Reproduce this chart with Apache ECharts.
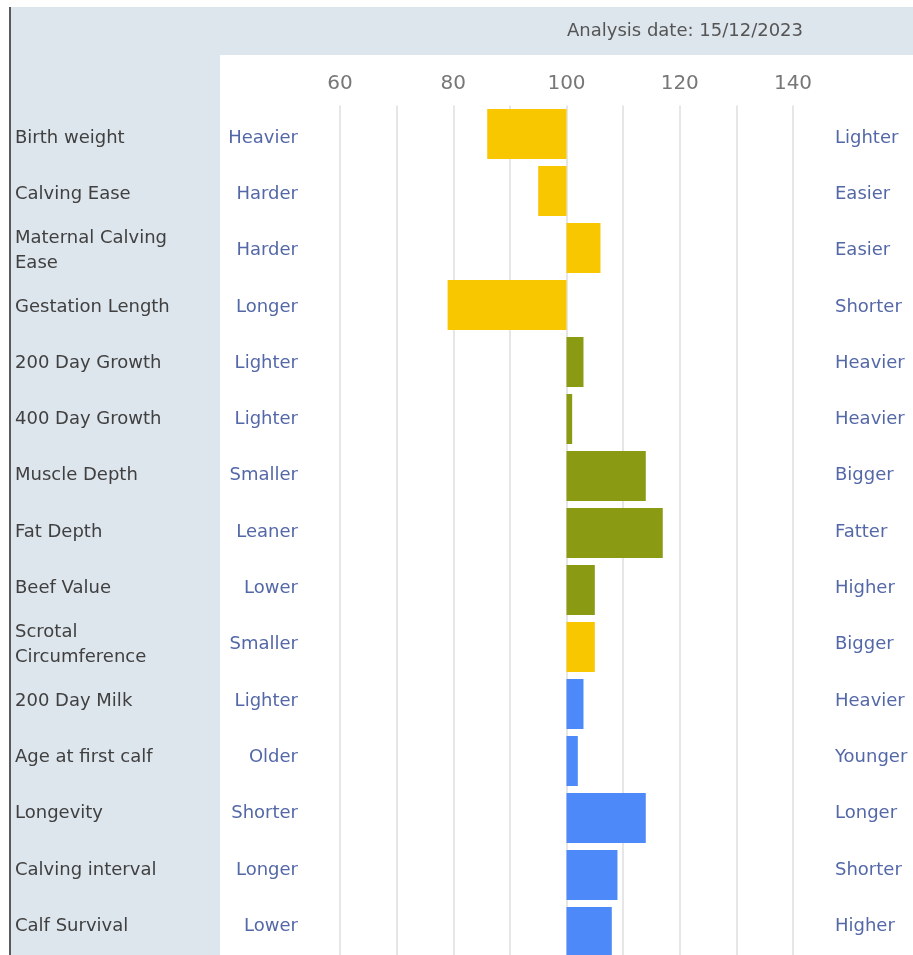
<!DOCTYPE html>
<html>
<head>
<meta charset="utf-8">
<script src="https://cdn.jsdelivr.net/npm/echarts@6/dist/echarts.min.js"></script>
<style>
  html, body { margin: 0; padding: 0; background: #fff; }
  #chart { width: 913px; height: 955px; }
</style>
</head>
<body>
<div id="chart"></div>
<script>
// trait rows, top to bottom
var traits = [
    'Birth weight', 'Calving Ease', 'Maternal Calving Ease', 'Gestation Length',
    '200 Day Growth', '400 Day Growth', 'Muscle Depth', 'Fat Depth', 'Beef Value',
    'Scrotal Circumference', '200 Day Milk', 'Age at first calf', 'Longevity',
    'Calving interval', 'Calf Survival'
];
var lowLabels = [
    'Heavier', 'Harder', 'Harder', 'Longer', 'Lighter', 'Lighter', 'Smaller', 'Leaner',
    'Lower', 'Smaller', 'Lighter', 'Older', 'Shorter', 'Longer', 'Lower'
];
var highLabels = [
    'Lighter', 'Easier', 'Easier', 'Shorter', 'Heavier', 'Heavier', 'Bigger', 'Fatter',
    'Higher', 'Bigger', 'Heavier', 'Younger', 'Longer', 'Shorter', 'Higher'
];
var values = [86, 95, 106, 79, 103, 101, 114, 117, 105, 105, 103, 102, 114, 109, 108];
// 0 = calving/fertility (yellow), 1 = growth/carcase (olive), 2 = maternal (blue)
var groups = [0, 0, 0, 0, 1, 1, 1, 1, 1, 0, 2, 2, 2, 2, 2];
var groupColors = ['#f8c700', '#8a9a12', '#4d89f8'];
var xTicks = [60, 80, 100, 120, 140];
var baseline = 100;
var analysisDate = '15/12/2023';

var FONT = 'DejaVu Sans';

var chart = echarts.init(document.getElementById('chart'));

// invisible part of the stack: from 0 up to the start of the visible bar
var baseData = values.map(function (v) { return Math.min(v, baseline); });
var deltaData = values.map(function (v, i) {
    return { value: Math.abs(v - baseline), itemStyle: { color: groupColors[groups[i]] } };
});

// label axes sit in a second grid (rows slightly tighter than the bars)
function catAxis(position, margin, align, color, textFor) {
    return {
        type: 'category',
        gridIndex: 1,
        data: traits,
        inverse: true,
        position: position,
        axisLine: { show: false },
        axisTick: { show: false },
        splitLine: { show: false },
        axisLabel: {
            margin: margin,
            align: align,
            color: color,
            fontFamily: FONT,
            fontSize: 18,
            lineHeight: 25,
            width: 180,
            overflow: 'break',
            formatter: textFor
        }
    };
}

var option = {
    animation: false,
    backgroundColor: '#ffffff',
    graphic: [
        // grey frame: top band and left column
        { type: 'rect', z: -10, shape: { x: 11, y: 7, width: 902, height: 48 }, style: { fill: '#dde5ed' } },
        { type: 'rect', z: -10, shape: { x: 11, y: 55, width: 209, height: 900 }, style: { fill: '#dde5ed' } },
        { type: 'rect', z: -10, shape: { x: 9, y: 7, width: 2, height: 948 }, style: { fill: '#5a5a5a' } },
        {
            type: 'text', z: 5, x: 685, y: 31,
            style: {
                text: 'Analysis date: ' + analysisDate,
                fill: '#555555', font: '18px "' + FONT + '"',
                textAlign: 'center', textVerticalAlign: 'middle'
            }
        }
    ],
    grid: [
        { left: 340, right: 120, top: 105.5, height: 855, containLabel: false, outerBoundsMode: 'none' },
        { left: 340, right: 120, top: 109.8, height: 844.5, containLabel: false, outerBoundsMode: 'none' }
    ],
    xAxis: [
        {
            type: 'value',
            gridIndex: 0,
            position: 'top',
            min: 60,
            max: 140,
            interval: 10,
            axisLine: { show: false },
            axisTick: { show: false },
            splitLine: { show: true, lineStyle: { color: '#e6e6e6', width: 2 } },
            axisLabel: {
                margin: 12,
                color: '#777777',
                fontFamily: FONT,
                fontSize: 20,
                formatter: function (v) { return xTicks.indexOf(v) >= 0 ? String(v) : ''; }
            }
        },
        { type: 'value', gridIndex: 1, min: 0, max: 1, show: false }
    ],
    yAxis: [
        catAxis('left', 325, 'left', '#404040', function (v) { return v; }),
        catAxis('left', 42, 'right', '#5468a8', function (v, i) { return lowLabels[i]; }),
        catAxis('right', 42, 'left', '#5468a8', function (v, i) { return highLabels[i]; }),
        { type: 'category', gridIndex: 0, data: traits, inverse: true, show: false }
    ],
    series: [
        {
            name: 'base', type: 'bar', stack: 'ebv', barWidth: 50, silent: true,
            xAxisIndex: 0, yAxisIndex: 3,
            itemStyle: { color: 'rgba(0,0,0,0)' },
            data: baseData
        },
        {
            name: 'ebv', type: 'bar', stack: 'ebv', barWidth: 50,
            xAxisIndex: 0, yAxisIndex: 3,
            data: deltaData
        }
    ]
};

chart.setOption(option);
</script>
</body>
</html>
